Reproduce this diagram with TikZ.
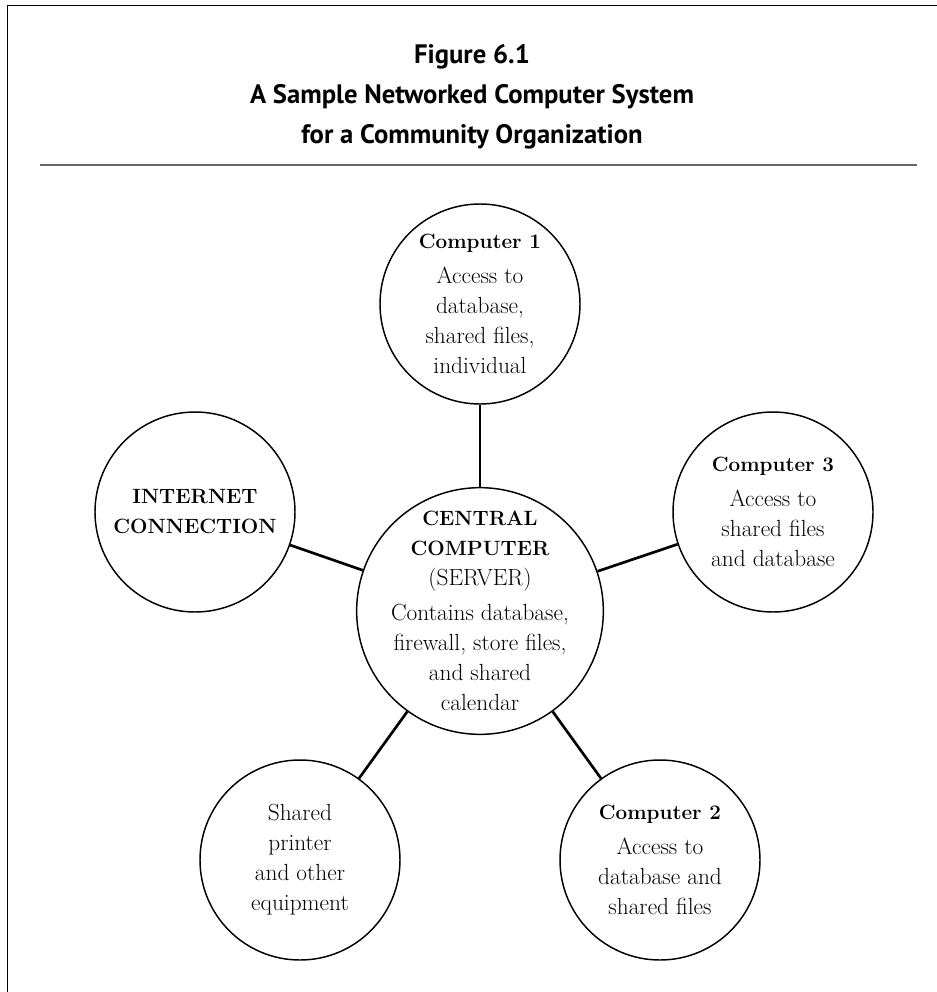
\documentclass[tikz,border=0pt]{standalone}
\usepackage{fontspec}
\setsansfont{PT Sans}
\newcommand{\hd}[1]{{\fontsize{15.5}{22.5}\selectfont\bfseries #1}}
\begin{document}
\begin{tikzpicture}[x=0.75pt,y=-0.75pt,
  pc/.style={circle, draw, line width=1.1pt, inner sep=0pt, minimum size=150pt, align=center, font=\fontsize{17.5}{22.5}\selectfont},
  link/.style={line width=2pt}]
\useasboundingbox (0,0) rectangle (937,992);
% frame and rule under the title
\draw[line width=1.1pt] (937,5.5) -- (7.5,5.5) -- (7.5,992);
\draw[line width=1.5pt, black!60] (40,165) -- (917,165);
\node[font=\sffamily\bfseries\fontsize{20}{30}\selectfont, align=center] (title) at (472,97) {Figure 6.1\\A Sample Networked Computer System\\for a Community Organization};

\node[pc, inner sep=-14pt, minimum size=185pt] (c) at (480,611) {\hd{CENTRAL}\\\hd{COMPUTER}\\(SERVER)\\[4pt]Contains database,\\firewall, store files,\\and shared\\calendar};
\node[pc] (c1) at (480,304) {\hd{Computer 1}\\[4pt]Access to\\database,\\shared files,\\individual};
\node[pc] (c3) at (773,512) {\hd{Computer 3}\\[4pt]Access to\\shared files\\and database};
\node[pc] (c2) at (660,860) {\hd{Computer 2}\\[4pt]Access to\\database and\\shared files};
\node[pc] (prn) at (300,860) {Shared\\printer\\and other\\equipment};
\node[pc] (net) at (195,512) {\hd{INTERNET}\\\hd{CONNECTION}};

\draw[link] (c1) -- (c);
\draw[link] (c3) -- (c);
\draw[link] (c2) -- (c);
\draw[link] (prn) -- (c);
\draw[link] (net) -- (c);
\end{tikzpicture}
\end{document}
